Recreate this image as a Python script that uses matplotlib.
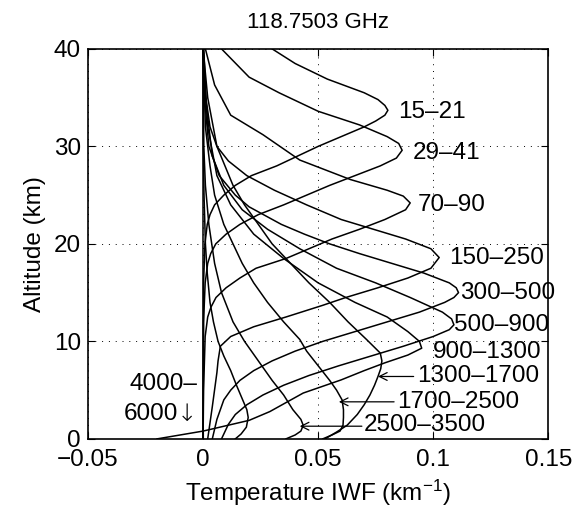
import matplotlib
matplotlib.use("Agg")
import matplotlib.pyplot as plt

plt.rcParams['font.family'] = ['Liberation Sans', 'DejaVu Sans']
plt.rcParams['mathtext.fontset'] = 'custom'
plt.rcParams['mathtext.rm'] = 'Liberation Sans'
plt.rcParams['mathtext.it'] = 'Liberation Sans:italic'

# ---- data (altitude km, IWF km^-1) ----
z_15_21 = [0, 10, 16, 20, 22, 23, 24, 25, 26, 27, 28, 29, 30, 31, 32, 32.6, 33.2, 33.7, 34.2, 34.8, 35.5, 36.9, 38.5, 40]
x_15_21 = [0, 0.0001, 0.0002, 0.0008, 0.0018, 0.003, 0.005, 0.009, 0.014, 0.021, 0.032, 0.041, 0.050, 0.060, 0.070, 0.075, 0.079, 0.0803, 0.079, 0.076, 0.070, 0.054, 0.040, 0.030]

z_29_41 = [0, 12, 16, 18, 19, 20, 21, 22, 23, 24, 25, 26, 27, 28, 28.8, 29.6, 30.3, 31, 32.2, 33.6, 35.5, 37.1, 40]
x_29_41 = [0, 0.0002, 0.0009, 0.002, 0.0033, 0.0055, 0.010, 0.016, 0.024, 0.035, 0.045, 0.055, 0.066, 0.077, 0.084, 0.0865, 0.085, 0.080, 0.068, 0.050, 0.033, 0.020, 0.008]

z_70_90 = [0, 5, 10.5, 12.5, 13.5, 14.5, 15.5, 16.5, 17.5, 18.5, 19.5, 20.5, 21.5, 22.5, 23.5, 24.2, 24.9, 25.5, 26.6, 28.6, 31.2, 33.2, 36.3, 40]
x_70_90 = [0, 0.0002, 0.0009, 0.002, 0.0034, 0.0056, 0.010, 0.016, 0.023, 0.036, 0.046, 0.056, 0.068, 0.079, 0.088, 0.090, 0.087, 0.080, 0.064, 0.042, 0.026, 0.012, 0.005, 0.001]

z_150_250 = [0, 3.3, 6.8, 8, 9.5, 10.5, 11.5, 12.5, 13.7, 14.5, 15.5, 16.5, 17.5, 18.6, 19.5, 20.5, 21.5, 22.5, 24, 25.5, 27, 28.5, 30, 32, 35, 40]
x_150_250 = [0.002, 0.004, 0.006, 0.0065, 0.0075, 0.012, 0.022, 0.036, 0.052, 0.062, 0.076, 0.089, 0.099, 0.1026, 0.099, 0.088, 0.074, 0.060, 0.045, 0.031, 0.019, 0.011, 0.006, 0.003, 0.0012, 0.0003]

z_300_500 = [0, 2, 4, 5, 6, 7, 8, 9, 10, 11, 12, 13, 14, 14.5, 15, 15.5, 16, 17, 18, 19, 20, 21, 22, 23.8, 25, 27, 30, 35, 40]
x_300_500 = [0.004, 0.006, 0.009, 0.012, 0.016, 0.022, 0.030, 0.040, 0.052, 0.066, 0.080, 0.094, 0.105, 0.109, 0.111, 0.110, 0.107, 0.096, 0.082, 0.068, 0.055, 0.044, 0.034, 0.020, 0.014, 0.007, 0.0025, 0.0006, 0.0001]

z_500_900 = [0, 1.5, 2.5, 3.5, 4.5, 5.5, 6.5, 7.5, 8.5, 9.5, 10.5, 11.2, 11.7, 12.3, 13, 14.5, 16, 17.5, 19.5, 21.5, 23.5, 26, 29, 35, 40]
x_500_900 = [0.008, 0.011, 0.014, 0.019, 0.026, 0.035, 0.046, 0.059, 0.073, 0.087, 0.100, 0.107, 0.109, 0.108, 0.104, 0.090, 0.075, 0.058, 0.042, 0.028, 0.017, 0.009, 0.004, 0.001, 0]

z_900_1300 = [0, 0.8, 1.9, 2.8, 4.7, 6.05, 7, 7.8, 8.6, 9.3, 10, 11, 12.5, 14, 16, 18.5, 21, 24, 27, 32, 40]
x_900_1300 = [-0.020, 0.0, 0.020, 0.029, 0.0435, 0.060, 0.070, 0.079, 0.089, 0.095, 0.094, 0.089, 0.080, 0.066, 0.050, 0.035, 0.022, 0.012, 0.006, 0.002, 0]

z_1300_1700 = [0, 0.7, 1.4, 2.5, 3.5, 4.5, 5.5, 6.4, 7.2, 8, 8.8, 10.2, 12, 14, 16, 18, 20, 22, 24, 26, 30, 35, 40]
x_1300_1700 = [0.053, 0.058, 0.0626, 0.067, 0.070, 0.0725, 0.0745, 0.0760, 0.0772, 0.0777, 0.0770, 0.071, 0.063, 0.055, 0.046, 0.038, 0.030, 0.024, 0.018, 0.013, 0.006, 0.002, 0]

z_1700_2500 = [0, 0.4, 0.8, 1.4, 2.2, 3, 4, 5, 6, 7.5, 9, 10.2, 12, 14, 16, 18, 20, 22, 25, 28, 32, 40]
x_1700_2500 = [0.052, 0.056, 0.0595, 0.0608, 0.061, 0.061, 0.0604, 0.058, 0.055, 0.050, 0.045, 0.042, 0.035, 0.028, 0.022, 0.017, 0.013, 0.009, 0.005, 0.003, 0.001, 0]

z_2500_3500 = [0, 0.4, 0.8, 1.4, 2, 3, 4.5, 6, 8, 10, 12, 15, 18, 22, 26, 30, 40]
x_2500_3500 = [0.036, 0.040, 0.0425, 0.0435, 0.0425, 0.039, 0.035, 0.030, 0.024, 0.018, 0.013, 0.008, 0.005, 0.0025, 0.001, 0.0003, 0]

z_4000_6000a = [0, 0.5, 1.2, 2.2, 3, 4, 5.5, 7, 8.5, 10, 12, 14, 17, 20, 25, 30, 40]
x_4000_6000a = [0.014, 0.0165, 0.0188, 0.0196, 0.019, 0.0172, 0.0145, 0.012, 0.009, 0.0065, 0.0045, 0.003, 0.0018, 0.001, 0.0004, 0.0001, 0]

z_4000_6000b = [0, 40]
x_4000_6000b = [0, 0]

curves = [(x_15_21, z_15_21), (x_29_41, z_29_41), (x_70_90, z_70_90),
          (x_150_250, z_150_250), (x_300_500, z_300_500), (x_500_900, z_500_900),
          (x_900_1300, z_900_1300), (x_1300_1700, z_1300_1700), (x_1700_2500, z_1700_2500),
          (x_2500_3500, z_2500_3500), (x_4000_6000a, z_4000_6000a), (x_4000_6000b, z_4000_6000b)]

labels = ['15–21', '29–41', '70–90', '150–250', '300–500', '500–900', '900–1300',
          '1300–1700', '1700–2500', '2500–3500']
label_x = [0.0848, 0.0909, 0.0935, 0.107, 0.1115, 0.1092, 0.1000, 0.0930, 0.0845, 0.0700]
label_z = [33.5, 29.3, 24.0, 18.6, 15.0, 11.7, 8.9, 6.4, 3.8, 1.4]

# arrows: (tail x, tip x, z) for the three lowest labels
arrow_tail = [0.0915, 0.0830, 0.0690]
arrow_tip = [0.0760, 0.0590, 0.0420]
arrow_z = [6.4, 3.8, 1.3]

xticks = [-0.05, 0, 0.05, 0.1, 0.15]
xticklabels = ['−0.05', '0', '0.05', '0.1', '0.15']
yticks = [0, 10, 20, 30, 40]

FS = 17.5

fig = plt.figure(figsize=(5.87, 5.20), dpi=100)
ax = fig.add_axes([0.150, 0.156, 0.784, 0.750])

for xs, zs in curves:
    ax.plot(xs, zs, color='black', lw=1.1, solid_joinstyle='round')

for t, lx, lz in zip(labels, label_x, label_z):
    ax.text(lx, lz, t, fontsize=FS, ha='left', va='center')

for tl, tp, az in zip(arrow_tail, arrow_tip, arrow_z):
    ax.annotate('', xy=(tp, az), xytext=(tl, az),
                arrowprops=dict(arrowstyle='->', color='black', lw=0.9,
                                mutation_scale=14, shrinkA=0, shrinkB=0))

ax.text(-0.0025, 5.6, '4000–', fontsize=FS, ha='right', va='center')
ax.annotate('6000', xy=(-0.0025, 2.6), xytext=(-13.5, 0), textcoords='offset points',
            fontsize=FS, ha='right', va='center')
ax.annotate('↓', xy=(-0.0025, 2.6), xytext=(0, 0), textcoords='offset points',
            fontsize=FS, ha='right', va='center', family=['DejaVu Sans'],
            fontweight='light')

ax.set_xlim(-0.05, 0.15)
ax.set_ylim(0, 40)
ax.set_xticks(xticks)
ax.set_xticklabels(xticklabels)
ax.set_yticks(yticks)
ax.tick_params(direction='in', length=5, width=0.8, top=True, right=True, labelsize=FS, pad=5)
ax.tick_params(axis='x', pad=7)
ax.grid(True, color='black', linestyle=(0, (1, 6)), linewidth=0.7)
for s in ax.spines.values():
    s.set_linewidth(1.2)

ax.set_title('118.7503 GHz', fontsize=16, pad=15)
ax.set_xlabel('Temperature IWF (km$^{−1}$)', fontsize=FS, labelpad=5)
ax.set_ylabel('Altitude (km)', fontsize=FS, labelpad=6)

fig.savefig('out.png', dpi=100)
